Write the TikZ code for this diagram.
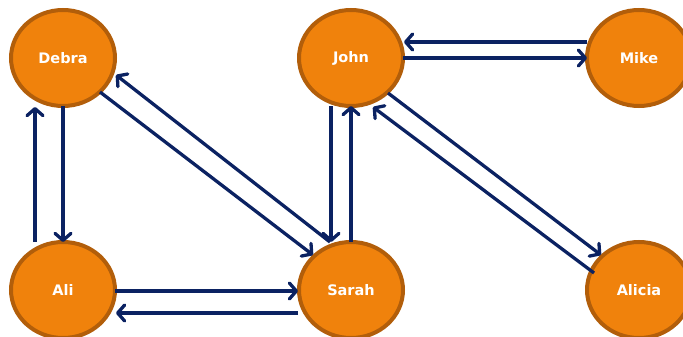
\documentclass[tikz,border=0pt]{standalone}
\usepackage{fontspec}
\setmainfont{DejaVu Sans}
\usetikzlibrary{shapes.geometric,arrows.meta,calc}
\definecolor{nodefill}{RGB}{240,130,12}
\definecolor{nodeedge}{RGB}{178,94,10}
\definecolor{navy}{RGB}{11,34,98}
\tikzset{
  person/.style={ellipse, draw=nodeedge, fill=nodefill, line width=4pt,
    minimum width=104pt, minimum height=96pt, inner sep=0pt,
    text=white, font=\fontsize{14.5}{16}\selectfont\bfseries},
  link/.style={draw=navy, line width=3.3pt,
    -{Straight Barb[length=7pt,width=16pt,line cap=round,round]}}
}
\begin{document}
\begin{tikzpicture}[x=1pt,y=-1pt]
\useasboundingbox (0,0) rectangle (683,337);
\clip (0,0) rectangle (683,337);
\node[person] (D) at (63,58) {Debra};
\node[person] (J) at (351,58) {John};
\node[person] (M) at (639,58) {Mike};
\node[person] (A) at (63,290) {Ali};
\node[person] (S) at (351,290) {Sarah};
\node[person] (L) at (639,290) {Alicia};
% Debra <-> Ali
\draw[link] ($(D.center)+(0,48)$) -- ($(A.center)+(0,-48)$);
\draw[link] ($(A.center)+(-28,-48)$) -- ($(D.center)+(-28,49)$);
% Debra <-> Sarah
\draw[link] ($(D.center)+(37,34)$) -- ($(S.center)+(-38,-35)$);
\draw[link] ($(S.center)+(-21,-48)$) -- ($(D.center)+(53,17)$);
% Ali <-> Sarah
\draw[link] ($(A.center)+(52,1)$) -- ($(S.center)+(-53,1)$);
\draw[link] ($(S.center)+(-53,23)$) -- ($(A.center)+(53,23)$);
% John <-> Sarah
\draw[link] ($(J.center)+(-20,48)$) -- ($(S.center)+(-20,-48)$);
\draw[link] ($(S.center)+(0,-48)$) -- ($(J.center)+(0,48)$);
% John <-> Mike
\draw[link] ($(J.center)+(52,0)$) -- ($(M.center)+(-52,0)$);
\draw[link] ($(M.center)+(-52,-16)$) -- ($(J.center)+(53,-16)$);
% John <-> Alicia
\draw[link] ($(J.center)+(37,35)$) -- ($(L.center)+(-38,-35)$);
\draw[link] ($(L.center)+(-45,-17)$) -- ($(J.center)+(22,49)$);
\end{tikzpicture}
\end{document}
